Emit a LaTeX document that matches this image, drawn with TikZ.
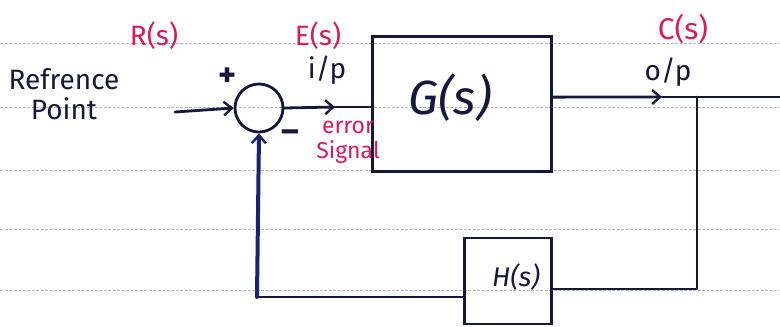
\documentclass[tikz,border=0pt]{standalone}
\usepackage{fontspec}
\setmainfont{Fira Sans}
\usetikzlibrary{arrows.meta,calc}
\definecolor{ink}{HTML}{17173A}
\definecolor{feed}{HTML}{1A2370}
\definecolor{pen}{HTML}{D81B60}
\definecolor{rule}{HTML}{B8B8B8}
\begin{document}
\begin{tikzpicture}[x=1pt,y=-1pt,
  wire/.style={draw=ink,line width=2.8pt,line join=round,line cap=round},
  tip/.style={-{Straight Barb[length=8pt,width=14pt,line width=2.4pt]}},
  blockbox/.style={draw=ink,line width=2.8pt,rectangle,inner sep=0pt},
  summer/.style={draw=ink,line width=2.8pt,circle,minimum size=48pt,inner sep=0pt},
  inktext/.style={text=ink,font=\fontsize{28}{28}\selectfont,inner sep=0pt},
  pentext/.style={text=pen,font=\fontsize{28}{28}\selectfont,inner sep=0pt},
  ruling/.style={draw=rule,line width=0.8pt,dash pattern=on 3pt off 1.5pt}]
\useasboundingbox (0,0) rectangle (780,327);
\fill[white] (0,0) rectangle (780,327);

% ruled paper
\foreach \yy in {43,107,170,229,290}
  \draw[ruling] (0,\yy) -- (780,\yy);

% blocks
\node[summer] (sum) at (259,108) {};
\node[blockbox,minimum width=179pt,minimum height=135pt] (G) at (462,104) {};
\node[inktext,font=\fontsize{48}{48}\selectfont\itshape] (Gt) at (450,98) {G(s)};
\node[blockbox,minimum width=87pt,minimum height=86pt] (H) at (508,281) {};
\node[inktext,font=\fontsize{27}{27}\selectfont\itshape] (Ht) at (516,277) {H(s)};

% labels
\node[inktext,align=center,font=\fontsize{28}{30}\selectfont] (ref) at (64,94) {Refrence\\Point};
\node[inktext,font=\fontsize{34}{34}\selectfont\bfseries] (plus) at (228,77) {+};
\node[inktext,font=\fontsize{34}{34}\selectfont\bfseries] (minus) at (290,136) {--};
\node[pentext] (R) at (154,36) {R(s)};
\node[pentext] (E) at (318,36) {E(s)};
\node[pentext,font=\fontsize{30}{30}\selectfont] (C) at (683,29) {C(s)};
\node[inktext] (ip) at (327,70) {i/p};
\node[inktext] (op) at (668,72) {o/p};
\node[pentext,align=center,font=\fontsize{23}{25}\selectfont] (err) at (348,142) {error\\Signal};

% forward path
\coordinate (in) at (175,112);
\draw[wire,tip] (in) -- (sum.west);
\coordinate (emark) at (335,107);
\draw[wire,tip] (sum.east) -- (emark);
\draw[wire] (emark) -- (emark -| G.west);
\coordinate (gout) at ($(G.north east)!0.45!(G.south east)$);
\coordinate (omark) at (662,97);
\coordinate (out) at (780,97);
\draw[wire,tip] (gout) -- (omark);
\draw[wire] (omark) -- (out);

% feedback path
\coordinate (branch) at (697,97);
\coordinate (fbr) at (697,289);
\draw[wire] (branch) -- (fbr) -- (fbr -| H.east);
\coordinate (fbl) at (257,297);
\draw[wire] (H.west |- fbl) -- (fbl);
\draw[draw=feed,line width=4pt,line cap=round,tip] (fbl) -- (sum.south);
\end{tikzpicture}
\end{document}
